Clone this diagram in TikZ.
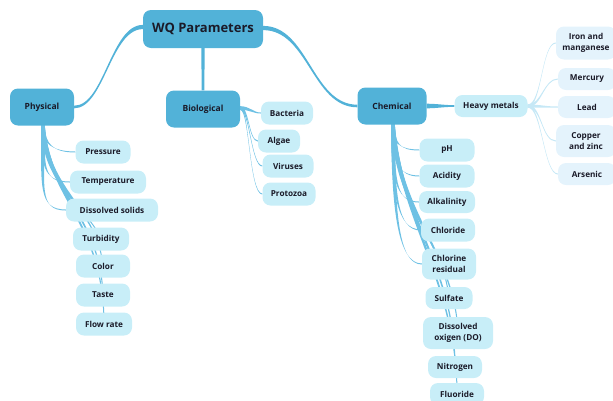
\documentclass[tikz,border=0pt]{standalone}
\usepackage{fontspec}
\setmainfont{Open Sans}
\usetikzlibrary{calc}
\pgfdeclarelayer{bg}
\pgfsetlayers{bg,main}
\definecolor{mainblue}{HTML}{52B2D8}
\definecolor{leafblue}{HTML}{C8EEF8}
\definecolor{paleblue}{HTML}{E4F3FC}
\definecolor{edgeblue}{HTML}{6EC1E4}
\definecolor{edgepale}{HTML}{C6E8F6}
\definecolor{txt}{HTML}{1A1A28}
\tikzset{
  rootbox/.style={fill=mainblue, rounded corners=8pt, minimum width=120pt, minimum height=38pt, text=txt, font=\bfseries\fontsize{13}{15}\selectfont},
  catbox/.style={fill=mainblue, rounded corners=8pt, minimum height=37pt, text=txt, font=\bfseries\fontsize{8.5}{10}\selectfont},
  leafbox/.style={fill=leafblue, rounded corners=8pt, minimum height=23pt, minimum width=54pt, inner xsep=4pt, align=center, text=txt, font=\bfseries\fontsize{8.2}{10.5}\selectfont},
  palebox/.style={leafbox, fill=paleblue},
  mainedge/.style={fill=mainblue},
  subedge/.style={fill=edgeblue},
  paleedge/.style={fill=edgepale},
}
% tapered connector: style, start, start half-width vector, ctrl1 (rel start), ctrl2 (rel end), end, end half-width vector
\newcommand\tpr[7]{%
  \fill[#1] ($(#2)+#3$) .. controls +#4 and +#5 .. ($(#6)+#7$) -- ($(#6)-#7$)
    .. controls +#5 and +#4 .. ($(#2)-#3$) -- cycle;}
\begin{document}
\begin{tikzpicture}[x=1pt,y=-1pt]
\useasboundingbox (0,0) rectangle (613,400);
% main nodes
\node[rootbox] (root) at (203,29) {WQ Parameters};
\node[catbox, minimum width=64pt] (phys) at (42,107) {Physical};
\node[catbox, minimum width=74pt] (bio) at (203,109) {Biological};
\node[catbox, minimum width=69pt] (chem) at (392,106) {Chemical};
\node[leafbox, minimum width=73pt, minimum height=22pt] (heavy) at (491,106) {Heavy metals};
% physical
\node[leafbox, minimum width=55pt] (pres) at (103,152) {Pressure};
\node[leafbox, minimum width=76pt] (temp) at (108,182) {Temperature};
\node[leafbox, minimum width=92pt] (diss) at (112,210) {Dissolved solids};
\node[leafbox, minimum width=56pt] (turb) at (101,239) {Turbidity};
\node[leafbox] (color) at (103,266) {Color};
\node[leafbox] (taste) at (103,295) {Taste};
\node[leafbox, minimum width=56pt] (flow) at (104,324) {Flow rate};
% biological
\node[leafbox, minimum width=52pt] (bact) at (287,113) {Bacteria};
\node[leafbox, minimum width=42pt] (algae) at (279,141) {Algae};
\node[leafbox, minimum width=51pt] (vir) at (288,166) {Viruses};
\node[leafbox, minimum width=53pt] (prot) at (289,194) {Protozoa};
% chemical
\node[leafbox, minimum width=55pt] (ph) at (447,150) {pH};
\node[leafbox, minimum width=55pt] (acid) at (447,176) {Acidity};
\node[leafbox, minimum width=56pt, minimum height=22pt] (alk) at (447,202) {Alkalinity};
\node[leafbox] (chlor) at (448,230) {Chloride};
\node[leafbox, minimum height=31pt] (chres) at (449,264) {Chlorine\\residual};
\node[leafbox, minimum width=47pt, minimum height=22pt] (sulf) at (449,298) {Sulfate};
\node[leafbox, minimum width=70pt, minimum height=32pt] (do) at (458,333) {Dissolved\\oxigen (DO)};
\node[leafbox, minimum height=22pt] (nitro) at (455,367) {Nitrogen};
\node[leafbox, minimum height=22pt] (fluo) at (457,394) {Fluoride};
% heavy metals
\node[palebox, minimum width=60pt, minimum height=33pt] (iron) at (586,43) {Iron and\\manganese};
\node[palebox, minimum width=58pt, minimum height=22pt] (merc) at (587,79) {Mercury};
\node[palebox, minimum width=58pt, minimum height=22pt] (lead) at (587,107) {Lead};
\node[palebox, minimum width=60pt, minimum height=32pt] (copp) at (586,141) {Copper\\and zinc};
\node[palebox, minimum width=58pt, minimum height=22pt] (ars) at (587,174) {Arsenic};
\begin{pgfonlayer}{bg}
% main edges
\coordinate (rw) at ([yshift=2pt]root.west);
\coordinate (re) at ([yshift=1pt]root.east);
\tpr{mainedge}{rw}{(0,2.1)}{(-32,0)}{(30,0)}{phys.east}{(0,1.3)}
\tpr{mainedge}{re}{(0,2.1)}{(45,0)}{(-45,0)}{chem.west}{(0,1.3)}
\tpr{mainedge}{root.south}{(1.7,0)}{(0,10)}{(0,-10)}{bio.north}{(1.3,0)}
\tpr{mainedge}{chem.east}{(0,2.3)}{(10,0)}{(-10,0)}{heavy.west}{(0,0.8)}
% physical children
\coordinate (ps) at ([xshift=1pt]phys.south);
\tpr{subedge}{ps}{(1.8,0)}{(0,18)}{(-22,0)}{pres.west}{(0,0.5)}
\tpr{subedge}{ps}{(1.8,0)}{(0,38)}{(-28,0)}{temp.west}{(0,0.5)}
\tpr{subedge}{ps}{(1.8,0)}{(0,60)}{(-28,0)}{diss.west}{(0,0.5)}
\tpr{subedge}{ps}{(1.8,0)}{(0,60)}{(-12,-30)}{turb.center}{(0.5,0)}
\tpr{subedge}{ps}{(1.8,0)}{(3,65)}{(-6,-60)}{color.center}{(0.5,0)}
\tpr{subedge}{ps}{(1.8,0)}{(5,70)}{(-3,-80)}{taste.center}{(0.5,0)}
\tpr{subedge}{ps}{(1.8,0)}{(7,75)}{(0,-100)}{flow.center}{(0.5,0)}
% biological children
\coordinate (bs) at ([yshift=1pt]bio.east);
\tpr{subedge}{bs}{(0,1.8)}{(10,0)}{(-8,0)}{bact.west}{(0,0.5)}
\tpr{subedge}{bs}{(0,1.8)}{(9,0)}{(-9,0)}{algae.west}{(0,0.5)}
\tpr{subedge}{bs}{(0,1.8)}{(9,0)}{(-11,0)}{vir.west}{(0,0.5)}
\tpr{subedge}{bs}{(0,1.8)}{(9,0)}{(-13,0)}{prot.west}{(0,0.5)}
% chemical children
\coordinate (cs) at ([xshift=1pt]chem.south);
\tpr{subedge}{cs}{(1.8,0)}{(0,18)}{(-20,0)}{ph.west}{(0,0.5)}
\tpr{subedge}{cs}{(1.8,0)}{(0,36)}{(-22,0)}{acid.west}{(0,0.5)}
\tpr{subedge}{cs}{(1.8,0)}{(0,52)}{(-24,0)}{alk.west}{(0,0.5)}
\tpr{subedge}{cs}{(1.8,0)}{(0,68)}{(-24,0)}{chlor.west}{(0,0.5)}
\tpr{subedge}{cs}{(1.8,0)}{(0,84)}{(-24,0)}{chres.west}{(0,0.5)}
\tpr{subedge}{cs}{(1.8,0)}{(3,85)}{(-6,-60)}{sulf.center}{(0.5,0)}
\tpr{subedge}{cs}{(1.8,0)}{(5,90)}{(-3,-80)}{do.center}{(0.5,0)}
\tpr{subedge}{cs}{(1.8,0)}{(7,95)}{(0,-100)}{nitro.center}{(0.5,0)}
\tpr{subedge}{cs}{(1.8,0)}{(9,100)}{(0,-110)}{fluo.center}{(0.5,0)}
% heavy metals children
\coordinate (hs) at (heavy.east);
\tpr{paleedge}{hs}{(0,1.5)}{(14,0)}{(-14,0)}{iron.west}{(0,0.5)}
\tpr{paleedge}{hs}{(0,1.5)}{(14,0)}{(-14,0)}{merc.west}{(0,0.5)}
\tpr{paleedge}{hs}{(0,1.5)}{(14,0)}{(-14,0)}{lead.west}{(0,0.5)}
\tpr{paleedge}{hs}{(0,1.5)}{(14,0)}{(-14,0)}{copp.west}{(0,0.5)}
\tpr{paleedge}{hs}{(0,1.5)}{(14,0)}{(-14,0)}{ars.west}{(0,0.5)}
\end{pgfonlayer}
\end{tikzpicture}
\end{document}
